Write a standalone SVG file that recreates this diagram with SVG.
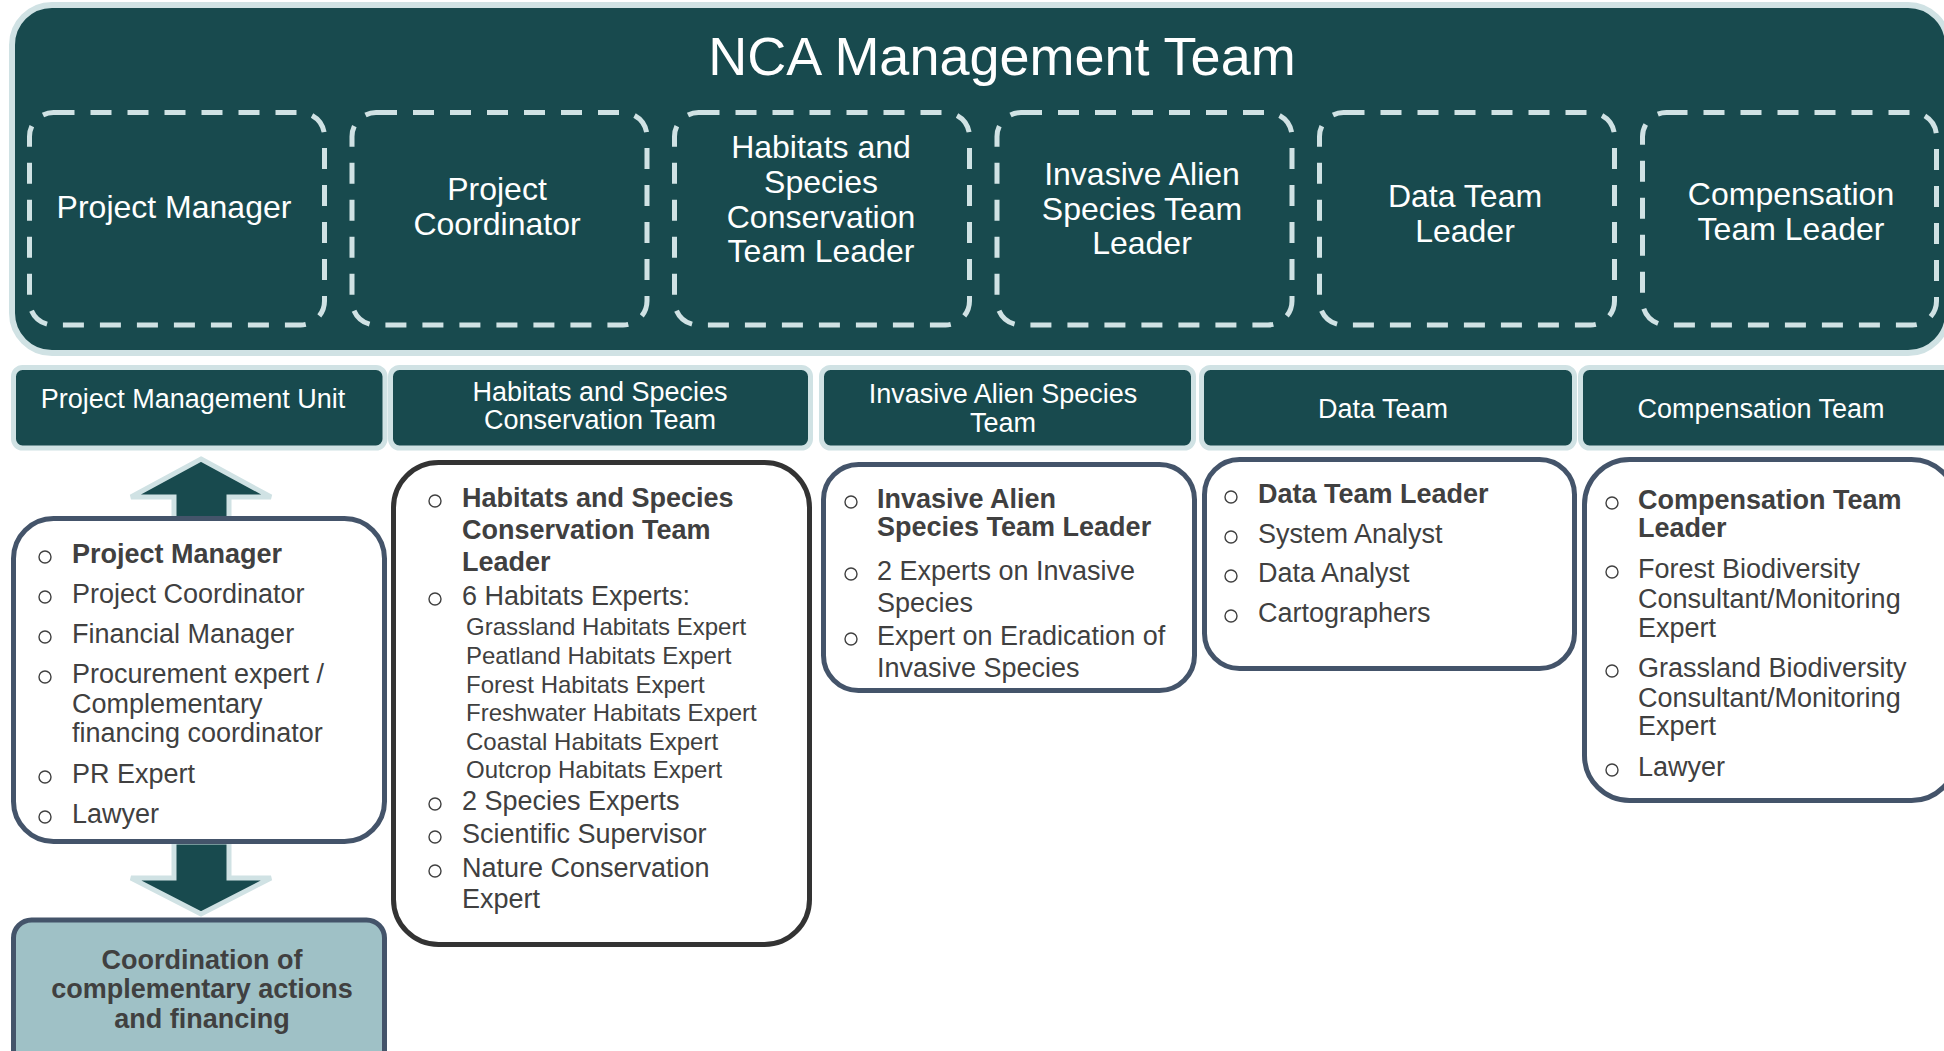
<svg xmlns="http://www.w3.org/2000/svg" width="1944" height="1051" viewBox="0 0 1944 1051">
<defs>
<style>
text{font-family:"Liberation Sans",Arial,Helvetica,sans-serif}
.bg{fill:#ffffff}
.outer{fill:#184a4e;stroke:#d0e2e4;stroke-width:6}
.dash{fill:none;stroke:#d0e2e4;stroke-width:5;stroke-dasharray:21 16}
.wt{fill:#ffffff;font-size:32px;text-anchor:middle}
.title{fill:#ffffff;font-size:54px;text-anchor:middle}
.hdr{fill:#184a4e;stroke:#d0e2e4;stroke-width:5}
.ht{fill:#ffffff;font-size:27px;text-anchor:middle}
.list{fill:#ffffff;stroke:#44546a;stroke-width:5}
.list2{fill:#ffffff;stroke:#333333;stroke-width:5}
.t{fill:#404040;font-size:27px}
.tb{fill:#404040;font-size:27px;font-weight:bold}
.ts{fill:#404040;font-size:24px}
.bul{fill:none;stroke:#404040;stroke-width:1.4}
.arrow{fill:#184a4e;stroke:#d0e2e4;stroke-width:5;stroke-linejoin:miter}
.coord{fill:#9fc1c6;stroke:#44546a;stroke-width:5}
.ct{fill:#404040;font-size:27px;font-weight:bold;text-anchor:middle}
</style>
</defs>
<rect class="bg" x="0" y="0" width="1944" height="1051"/>

<g id="nca-management-team">
<rect class="outer" x="12" y="5" width="1936" height="348" rx="40"/>
<text class="title" x="1002" y="75">NCA Management Team</text>
</g>

<g id="mt-project-manager">
<rect class="dash" x="29.5" y="112.5" width="295" height="212.5" rx="24"/>
<text class="wt" x="174" y="218">Project Manager</text>
</g>
<g id="mt-project-coordinator">
<rect class="dash" x="352" y="112.5" width="295" height="212.5" rx="24"/>
<text class="wt" x="497" y="200">Project</text>
<text class="wt" x="497" y="235">Coordinator</text>
</g>
<g id="mt-hsc-leader">
<rect class="dash" x="674.5" y="112.5" width="295" height="212.5" rx="24"/>
<text class="wt" x="821" y="158">Habitats and</text>
<text class="wt" x="821" y="193">Species</text>
<text class="wt" x="821" y="228">Conservation</text>
<text class="wt" x="821" y="262">Team Leader</text>
</g>
<g id="mt-ias-leader">
<rect class="dash" x="997" y="112.5" width="295" height="212.5" rx="24"/>
<text class="wt" x="1142" y="185">Invasive Alien</text>
<text class="wt" x="1142" y="220">Species Team</text>
<text class="wt" x="1142" y="254">Leader</text>
</g>
<g id="mt-data-leader">
<rect class="dash" x="1319.5" y="112.5" width="295" height="212.5" rx="24"/>
<text class="wt" x="1465" y="207">Data Team</text>
<text class="wt" x="1465" y="242">Leader</text>
</g>
<g id="mt-compensation-leader">
<rect class="dash" x="1642.5" y="112.5" width="294" height="212.5" rx="24"/>
<text class="wt" x="1791" y="205">Compensation</text>
<text class="wt" x="1791" y="240">Team Leader</text>
</g>

<g id="hdr-pmu">
<rect class="hdr" x="13.5" y="367.5" width="371.5" height="80.5" rx="9"/>
<text class="ht" x="193" y="408">Project Management Unit</text>
</g>
<g id="hdr-hsc">
<rect class="hdr" x="390.5" y="367.5" width="420" height="80.5" rx="9"/>
<text class="ht" x="600" y="401">Habitats and Species</text>
<text class="ht" x="600" y="429">Conservation Team</text>
</g>
<g id="hdr-ias">
<rect class="hdr" x="821.5" y="367.5" width="372" height="80.5" rx="9"/>
<text class="ht" x="1003" y="403">Invasive Alien Species</text>
<text class="ht" x="1003" y="432">Team</text>
</g>
<g id="hdr-data">
<rect class="hdr" x="1201.5" y="367.5" width="373" height="80.5" rx="9"/>
<text class="ht" x="1383" y="418">Data Team</text>
</g>
<g id="hdr-comp">
<rect class="hdr" x="1580.5" y="367.5" width="372" height="80.5" rx="9"/>
<text class="ht" x="1761" y="418">Compensation Team</text>
</g>

<g id="connectors">
<polygon class="arrow" points="201,459 271,497 229,497 229,521 174,521 174,497 131,497"/>
<polygon class="arrow" points="174,842 229,842 229,878 271,878 201,914 131,878 174,878"/>
</g>

<g id="list-pmu">
<rect class="list" x="13.5" y="518.5" width="371" height="323" rx="40"/>
<circle class="bul" cx="45" cy="557" r="6"/>
<text class="tb" x="72" y="563">Project Manager</text>
<circle class="bul" cx="45" cy="597" r="6"/>
<text class="t" x="72" y="603">Project Coordinator</text>
<circle class="bul" cx="45" cy="637" r="6"/>
<text class="t" x="72" y="643">Financial Manager</text>
<circle class="bul" cx="45" cy="677" r="6"/>
<text class="t" x="72" y="683">Procurement expert /</text>
<text class="t" x="72" y="713">Complementary</text>
<text class="t" x="72" y="742">financing coordinator</text>
<circle class="bul" cx="45" cy="777" r="6"/>
<text class="t" x="72" y="783">PR Expert</text>
<circle class="bul" cx="45" cy="817" r="6"/>
<text class="t" x="72" y="823">Lawyer</text>
</g>

<g id="coordination">
<rect class="coord" x="13.5" y="920" width="371" height="150" rx="18"/>
<text class="ct" x="202" y="969">Coordination of</text>
<text class="ct" x="202" y="998">complementary actions</text>
<text class="ct" x="202" y="1028">and financing</text>
</g>

<g id="list-hsc">
<rect class="list2" x="393.5" y="462.5" width="416" height="482" rx="45"/>
<circle class="bul" cx="435" cy="501" r="6"/>
<text class="tb" x="462" y="507">Habitats and Species</text>
<text class="tb" x="462" y="539">Conservation Team</text>
<text class="tb" x="462" y="571">Leader</text>
<circle class="bul" cx="435" cy="599" r="6"/>
<text class="t" x="462" y="605">6 Habitats Experts:</text>
<text class="ts" x="466" y="635">Grassland Habitats Expert</text>
<text class="ts" x="466" y="664">Peatland Habitats Expert</text>
<text class="ts" x="466" y="693">Forest Habitats Expert</text>
<text class="ts" x="466" y="721">Freshwater Habitats Expert</text>
<text class="ts" x="466" y="750">Coastal Habitats Expert</text>
<text class="ts" x="466" y="778">Outcrop Habitats Expert</text>
<circle class="bul" cx="435" cy="804" r="6"/>
<text class="t" x="462" y="810">2 Species Experts</text>
<circle class="bul" cx="435" cy="837" r="6"/>
<text class="t" x="462" y="843">Scientific Supervisor</text>
<circle class="bul" cx="435" cy="871" r="6"/>
<text class="t" x="462" y="877">Nature Conservation</text>
<text class="t" x="462" y="908">Expert</text>
</g>

<g id="list-ias">
<rect class="list" x="823.5" y="464.5" width="371" height="226" rx="35"/>
<circle class="bul" cx="851" cy="502" r="6"/>
<text class="tb" x="877" y="508">Invasive Alien</text>
<text class="tb" x="877" y="536">Species Team Leader</text>
<circle class="bul" cx="851" cy="574" r="6"/>
<text class="t" x="877" y="580">2 Experts on Invasive</text>
<text class="t" x="877" y="612">Species</text>
<circle class="bul" cx="851" cy="639" r="6"/>
<text class="t" x="877" y="645">Expert on Eradication of</text>
<text class="t" x="877" y="677">Invasive Species</text>
</g>

<g id="list-data">
<rect class="list" x="1204.5" y="459.5" width="370" height="209" rx="35"/>
<circle class="bul" cx="1231" cy="497" r="6"/>
<text class="tb" x="1258" y="503">Data Team Leader</text>
<circle class="bul" cx="1231" cy="537" r="6"/>
<text class="t" x="1258" y="543">System Analyst</text>
<circle class="bul" cx="1231" cy="576" r="6"/>
<text class="t" x="1258" y="582">Data Analyst</text>
<circle class="bul" cx="1231" cy="616" r="6"/>
<text class="t" x="1258" y="622">Cartographers</text>
</g>

<g id="list-comp">
<rect class="list" x="1584.5" y="459.5" width="372" height="341" rx="45"/>
<circle class="bul" cx="1612" cy="503" r="6"/>
<text class="tb" x="1638" y="509">Compensation Team</text>
<text class="tb" x="1638" y="537">Leader</text>
<circle class="bul" cx="1612" cy="572" r="6"/>
<text class="t" x="1638" y="578">Forest Biodiversity</text>
<text class="t" x="1638" y="608">Consultant/Monitoring</text>
<text class="t" x="1638" y="637">Expert</text>
<circle class="bul" cx="1612" cy="671" r="6"/>
<text class="t" x="1638" y="677">Grassland Biodiversity</text>
<text class="t" x="1638" y="707">Consultant/Monitoring</text>
<text class="t" x="1638" y="735">Expert</text>
<circle class="bul" cx="1612" cy="770" r="6"/>
<text class="t" x="1638" y="776">Lawyer</text>
</g>
</svg>
